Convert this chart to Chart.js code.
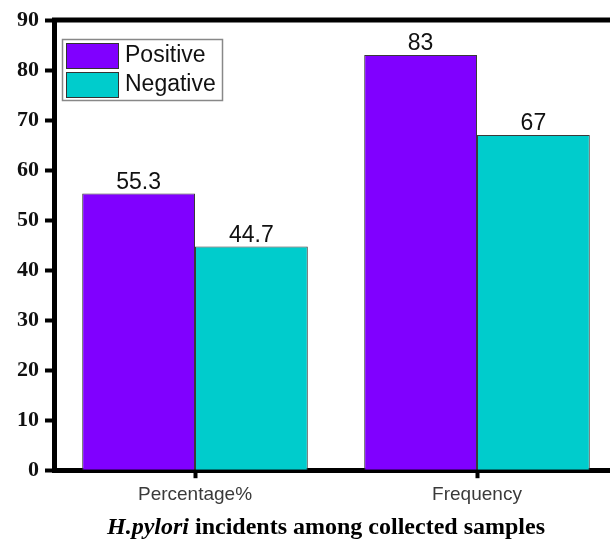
<!DOCTYPE html>
<html>
<head>
<meta charset="utf-8">
<script src="https://cdn.jsdelivr.net/npm/chart.js@4"></script>
<style>
  html, body { margin: 0; padding: 0; background: #fff; overflow: hidden; }
  #wrap { width: 620px; height: 542px; position: relative; }
</style>
</head>
<body>
<div id="wrap"><canvas id="chart"></canvas></div>
<script>
const categories = ['Percentage%', 'Frequency']
const positiveValues = [55.3, 83]
const negativeValues = [44.7, 67]
const seriesLabels = ['Positive', 'Negative']
const yTicks = [0, 10, 20, 30, 40, 50, 60, 70, 80, 90]

// legend inside plot, top left
const boxLegend = {
  id: 'boxLegend',
  afterDraw (chart) {
    const ctx = chart.ctx
    const a = chart.chartArea
    const x0 = a.left + 8
    const y0 = a.top + 19
    ctx.save()
    ctx.strokeStyle = '#888'
    ctx.lineWidth = 1.5
    ctx.strokeRect(x0 + 0.5, y0 + 0.5, 160, 61)
    chart.data.datasets.forEach((ds, i) => {
      const sy = y0 + 4 + i * 29
      ctx.fillStyle = ds.backgroundColor
      ctx.fillRect(x0 + 4, sy, 52, 25)
      ctx.strokeStyle = '#333'
      ctx.lineWidth = 1
      ctx.strokeRect(x0 + 4.5, sy + 0.5, 52, 25)
      ctx.fillStyle = '#111'
      ctx.font = '23px "Liberation Sans", Arial, sans-serif'
      ctx.textBaseline = 'middle'
      ctx.fillText(ds.label, x0 + 63, sy + 13)
    })
    ctx.restore()
  }
}

// numbers above bars, top border, mixed-style title
const extras = {
  id: 'extras',
  afterDatasetsDraw (chart) {
    const ctx = chart.ctx
    ctx.save()
    ctx.fillStyle = '#111'
    ctx.font = '23px "Liberation Sans", Arial, sans-serif'
    ctx.textAlign = 'center'
    ctx.textBaseline = 'alphabetic'
    chart.data.datasets.forEach((ds, i) => {
      chart.getDatasetMeta(i).data.forEach((bar, j) => {
        ctx.fillText(String(ds.data[j]), bar.x, bar.y - 5)
      })
    })
    ctx.restore()
  },
  afterDraw (chart) {
    const ctx = chart.ctx
    const a = chart.chartArea
    ctx.save()
    ctx.strokeStyle = '#000'
    ctx.lineWidth = 5
    ctx.beginPath()
    ctx.moveTo(a.left - 2, a.top)
    ctx.lineTo(chart.width, a.top)
    ctx.stroke()

    const italic = 'italic bold 24px "Liberation Serif", "Times New Roman", serif'
    const plain = 'bold 24px "Liberation Serif", "Times New Roman", serif'
    const p1 = 'H.pylori'
    const p2 = ' incidents among collected samples'
    ctx.font = italic
    const w1 = ctx.measureText(p1).width
    ctx.font = plain
    const w2 = ctx.measureText(p2).width
    const cx = 326
    const x = cx - (w1 + w2) / 2
    ctx.fillStyle = '#000'
    ctx.textBaseline = 'middle'
    ctx.font = italic
    ctx.fillText(p1, x, 528)
    ctx.font = plain
    ctx.fillText(p2, x + w1, 528)
    ctx.restore()
  }
}

new Chart(document.getElementById('chart').getContext('2d'), {
  type: 'bar',
  data: {
    labels: categories,
    datasets: [
      {
        label: seriesLabels[0],
        data: positiveValues,
        backgroundColor: '#8000ff',
        borderColor: '#3a3a3a',
        borderWidth: 1,
        categoryPercentage: 0.8,
        barPercentage: 1
      },
      {
        label: seriesLabels[1],
        data: negativeValues,
        backgroundColor: '#00cccc',
        borderColor: '#3a3a3a',
        borderWidth: 1,
        categoryPercentage: 0.8,
        barPercentage: 1
      }
    ]
  },
  options: {
    responsive: true,
    maintainAspectRatio: false,
    animation: false,
    layout: { padding: { top: 20, right: 2, bottom: 31, left: 0 } },
    plugins: {
      legend: { display: false },
      tooltip: { enabled: false }
    },
    scales: {
      y: {
        min: 0,
        max: 90,
        afterBuildTicks: (axis) => { axis.ticks = yTicks.map(v => ({ value: v })) },
        afterFit: (axis) => { axis.width = 54 },
        border: { display: true, color: '#000', width: 5 },
        grid: { drawOnChartArea: false, drawTicks: true, tickLength: 9, tickWidth: 4, tickColor: '#000' },
        ticks: {
          color: '#111',
          padding: 6,
          font: { family: '"Liberation Serif", "Times New Roman", serif', weight: 'bold', size: 22 }
        }
      },
      x: {
        border: { display: true, color: '#000', width: 5 },
        grid: { drawOnChartArea: false, drawTicks: true, tickLength: 8, tickWidth: 4, tickColor: '#000', offset: false },
        ticks: {
          color: '#3a3a3a',
          padding: 5,
          font: { family: '"Liberation Sans", Arial, sans-serif', size: 19 }
        }
      }
    }
  },
  plugins: [boxLegend, extras]
})
</script>
</body>
</html>
